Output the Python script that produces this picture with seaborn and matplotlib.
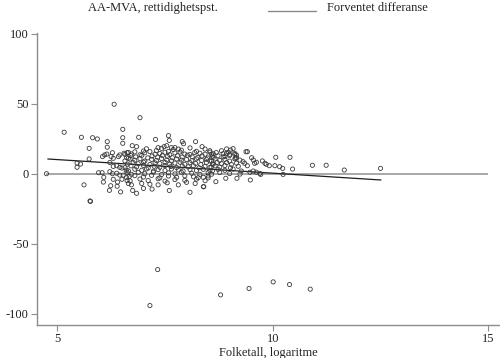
import numpy as np
import pandas as pd
import matplotlib
matplotlib.use('Agg')
import matplotlib.pyplot as plt
from matplotlib.lines import Line2D
import seaborn as sns

# Points: log population vs. deviation
x_left = [4.75, 5.16, 5.56, 5.82, 5.93, 6.52, 6.52, 6.52, 6.16, 6.16, 5.74, 5.74,
          5.46, 5.54, 5.46, 5.96, 6.04, 6.08, 6.07, 5.62, 6.24, 6.21, 6.39, 6.47,
          5.76, 5.77, 6.32, 6.92, 6.89, 7.28, 7.58, 7.60, 7.90, 7.93, 8.21, 8.36,
          6.74, 6.84, 7.34, 7.48, 7.54, 7.65, 7.73, 7.81]
y_left = [0.0, 29.6, 26.0, 25.7, 24.8, 31.7, 25.7, 21.7, 22.9, 18.9, 18.1, 10.5,
          7.6, 6.9, 4.6, 0.7, 0.7, -2.6, -6.0, -8.0, -8.6, -11.9, -9.0, -13.0,
          -19.5, -19.8, 49.6, 40.0, 26.0, 24.5, 27.2, 23.8, 22.9, 21.4, 22.9, 19.3,
          20.0, 19.3, 18.6, 19.3, 20.0, 18.6, 18.6, 17.6]

x_near = [6.05, 6.10, 6.15, 6.25, 6.28, 6.30, 6.42, 6.45, 6.55, 6.62, 6.65, 6.22,
          6.30, 6.38, 6.45, 6.50, 6.60, 6.22, 6.28, 6.38, 6.45, 6.53, 6.62, 6.67,
          6.62, 6.65, 6.30, 6.40, 6.50]
y_near = [12.2, 13.4, 14.0, 12.2, 15.0, 11.0, 12.2, 13.4, 14.6, 15.0, 11.0, 8.0,
          5.2, 5.7, 4.5, 4.0, 2.5, 1.4, 0.0, 0.3, -1.0, -1.0, 1.0, -2.0,
          -5.0, -7.0, -4.0, -6.0, -4.0]

x_mid = [7.00, 7.07, 7.30, 7.42, 7.58, 7.69, 7.88, 8.08, 8.23, 8.43, 8.54,
         6.57, 6.65, 6.72, 6.80, 6.92, 7.03, 7.15, 7.27, 7.38, 7.50, 7.61, 7.73,
         7.85, 7.96, 8.08, 8.19, 8.31, 8.43, 8.54, 8.62,
         6.61, 6.71, 6.82, 6.96, 7.10, 7.20, 7.33, 7.44, 7.56, 7.67, 7.79, 7.90,
         8.02, 8.13, 8.26, 8.36, 8.49, 8.60,
         6.57, 6.69, 6.80, 6.92, 7.03, 7.19, 7.30, 7.42, 7.54, 7.65, 7.77, 7.88,
         8.00, 8.12, 8.23, 8.35, 8.46, 8.58,
         6.63, 6.76, 6.88, 7.00, 7.15, 7.27, 7.38, 7.50, 7.61, 7.73, 7.85, 7.96,
         8.08, 8.21, 8.33, 8.46, 8.60,
         6.57, 6.71, 6.84, 7.00, 7.11, 7.25, 7.38, 7.50, 7.64, 7.77, 7.90, 8.04,
         8.16, 8.29, 8.43, 8.57,
         6.65, 6.80, 6.96, 7.07, 7.23, 7.34, 7.50, 7.65, 7.81, 7.92, 8.08, 8.23,
         8.39, 8.54,
         6.72, 6.88, 7.03, 7.23, 7.42, 7.58, 7.73, 7.88, 8.12, 8.31, 8.50,
         6.61, 6.80, 7.00, 7.19, 7.38, 7.58, 7.77, 7.96, 8.16, 8.27, 8.50,
         6.69, 6.92, 7.11, 7.34, 7.50, 7.73, 7.96, 8.23, 8.43,
         6.72, 6.96, 7.15, 7.34, 7.81, 8.00, 7.55, 8.20,
         6.84, 8.08, 8.39, 7.20, 7.60, 7.00, 6.75]
y_mid = [16.2, 17.8, 16.5, 18.1, 15.9, 17.3, 16.8, 18.4, 16.0, 17.6, 16.4,
         13.8, 15.2, 14.1, 15.6, 13.5, 14.9, 15.8, 13.9, 14.4, 15.3, 13.6, 14.8,
         15.5, 14.0, 13.7, 15.1, 14.6, 13.9, 15.4, 14.2,
         11.5, 12.9, 12.0, 13.1, 11.3, 12.6, 11.8, 13.0, 12.3, 11.4, 12.8, 11.9,
         13.2, 12.1, 11.6, 12.7, 11.2, 12.5,
         9.1, 10.4, 9.6, 10.7, 9.0, 10.2, 9.4, 10.8, 9.9, 9.2, 10.5, 9.7,
         10.1, 9.3, 10.6, 9.5, 10.3, 9.0,
         6.8, 8.0, 7.1, 8.3, 6.6, 7.7, 7.2, 8.1, 6.9, 7.6, 8.2, 6.7,
         7.9, 7.3, 6.5, 8.0, 7.0,
         4.3, 5.6, 4.8, 5.9, 4.1, 5.3, 4.6, 5.8, 5.1, 4.4, 5.5, 4.9,
         5.7, 4.2, 5.2, 4.7,
         2.0, 3.2, 2.4, 3.4, 1.8, 2.9, 2.2, 3.3, 2.7, 1.9, 3.0, 2.3,
         3.1, 2.1,
         -0.4, 0.9, 0.0, 1.1, -0.6, 0.6, -0.2, 1.0, 0.3, -0.5, 0.7,
         -2.8, -1.4, -2.4, -1.2, -3.0, -1.7, -2.6, -1.5, -2.2, -2.9, -1.6,
         -5.1, -3.8, -4.9, -3.6, -5.3, -4.2, -4.8, -3.9, -5.0,
         -8.0, -7.0, -7.6, -8.0, -8.0, -6.2, -6.5, -7.0,
         -14.0, -13.3, -9.3, -11.0, -12.0, -10.5, -12.0]

x_right = [8.81, 8.93, 9.02, 9.08,
           8.58, 8.69, 8.85, 8.97, 9.12,
           8.62, 8.73, 8.85, 9.00, 9.16,
           8.54, 8.66, 8.77, 8.89, 9.00, 9.12, 9.24,
           8.62, 8.71, 8.81, 8.93, 9.04, 9.16,
           8.54, 8.66, 8.77, 8.89, 9.02, 9.20,
           8.60, 8.73, 8.89, 9.08, 9.27,
           8.58, 8.77, 9.00, 9.24,
           9.38, 9.41, 10.07, 10.40, 10.46, 10.24, 9.72, 9.48, 9.17, 8.91, 8.68,
           9.51, 9.55, 9.58, 9.62, 9.76, 9.82, 9.85, 9.92, 10.05, 10.16, 10.23,
           9.31, 9.35, 9.41, 9.12, 9.16, 9.14, 8.93, 9.00, 8.89,
           9.47, 9.55, 9.62, 9.70, 8.40, 8.39, 8.50,
           10.92, 11.24, 11.66, 12.50]
y_right = [16.4, 17.7, 16.9, 17.9,
           13.9, 15.1, 14.3, 15.4, 13.7,
           11.6, 12.8, 12.0, 13.0, 11.4,
           9.2, 10.5, 9.5, 10.2, 9.0, 10.6, 9.7,
           6.8, 8.0, 7.2, 7.9, 6.6, 7.5,
           4.4, 5.6, 4.7, 5.8, 4.2, 5.3,
           2.0, 3.1, 2.4, 3.3, 1.9,
           -0.4, 0.8, 0.1, -0.3,
           15.7, 15.7, 11.7, 11.7, 3.3, -0.5, -0.5, -4.5, -3.3, -3.3, -5.7,
           11.4, 9.8, 7.4, 8.1, 9.1, 7.4, 6.7, 5.7, 5.7, 5.0, 3.8,
           8.6, 7.4, 5.7, 14.5, 13.3, 11.0, 14.5, 13.8, 12.2,
           1.0, 1.9, 1.0, 0.2, -9.3, -2.6, -3.0,
           6.0, 6.0, 2.6, 3.8]

x_low = [7.33, 7.15, 8.79, 9.45, 10.01, 10.39, 10.87]
y_low = [-68.5, -94.2, -86.6, -82.0, -77.3, -79.2, -82.5]

# Expected difference (fitted line), endpoints
fit_x = [4.78, 12.51]
fit_y = [10.5, -4.5]

x_ticks = [5, 10, 15]
y_ticks = [-100, -50, 0, 50, 100]

df = pd.DataFrame({
    'logpop': x_left + x_near + x_mid + x_right + x_low,
    'diff': y_left + y_near + y_mid + y_right + y_low,
})
fit = pd.DataFrame({'logpop': fit_x, 'diff': fit_y})

sns.set_theme(style='ticks')
plt.rcParams['font.family'] = ['Liberation Serif', 'DejaVu Serif']

axis_grey = '#8c8c8c'
fig = plt.figure(figsize=(5, 3.58), dpi=100)
ax = fig.add_axes([0.074, 0.0922, 0.924, 0.8156])

ax.hlines(0, df['logpop'].min(), 15, color='#a8a8a8', lw=1.4, zorder=1)
sns.scatterplot(data=df, x='logpop', y='diff', ax=ax, marker='o', s=9,
                facecolor='none', edgecolor='#3a3a3a', linewidth=0.6, zorder=3)
sns.lineplot(data=fit, x='logpop', y='diff', ax=ax, color='#1e1e1e',
             lw=0.9, zorder=2)

ax.set_xlim(4.53, 15.25)
ax.set_ylim(-108.1, 100.5)
ax.set_xticks(x_ticks)
ax.set_yticks(y_ticks)
ax.set_xticklabels([str(t) for t in x_ticks])
ax.set_yticklabels([str(t) for t in y_ticks])
ax.tick_params(axis='both', length=4, width=0.8, color=axis_grey,
               labelsize=9, pad=2, labelcolor='#222222')
for side in ['top', 'right']:
    ax.spines[side].set_visible(False)
for side in ['left', 'bottom']:
    ax.spines[side].set_color(axis_grey)
    ax.spines[side].set_linewidth(1.0)
ax.set_xlabel('Folketall, logaritme', fontsize=9, labelpad=1, color='#222222')
ax.set_ylabel('')

# legend drawn at the top like the original
fig.text(88 / 500, 1 - 8 / 358, 'AA-MVA, rettidighetspst.', fontsize=9,
         va='center', ha='left', color='#222222')
fig.add_artist(Line2D([268 / 500, 316 / 500], [1 - 11 / 358, 1 - 11 / 358],
                      color='#8a8a8a', lw=1.0, transform=fig.transFigure))
fig.text(327 / 500, 1 - 8 / 358, 'Forventet differanse', fontsize=9,
         va='center', ha='left', color='#222222')

fig.savefig('out.png', dpi=100)
